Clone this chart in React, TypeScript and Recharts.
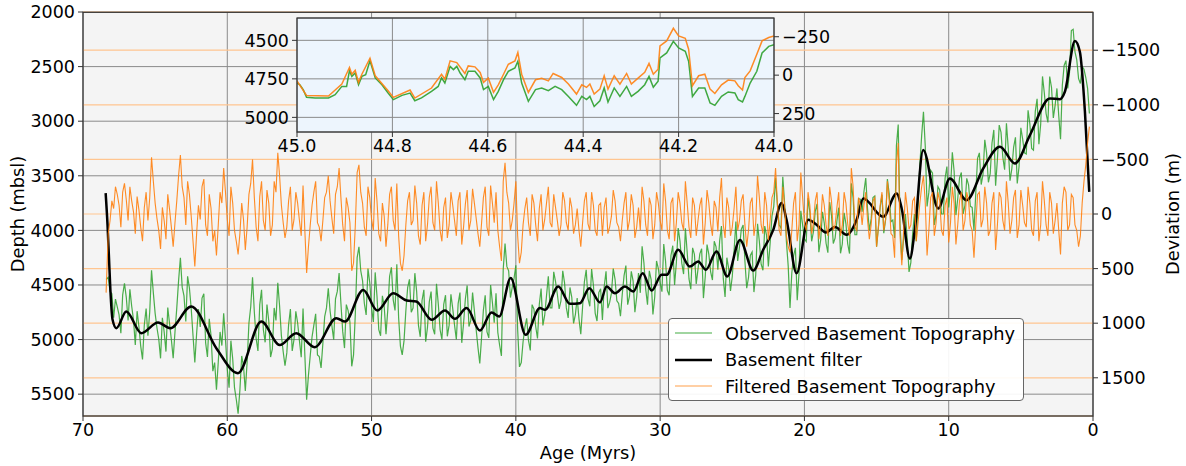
import React from 'react';
import { LineChart, Line, XAxis, YAxis, CartesianGrid, Legend } from 'recharts';

const FONT = '"DejaVu Sans", Verdana, sans-serif';

// ---------- main axes ----------
const ageTicks = [70, 60, 50, 40, 30, 20, 10, 0];
const depthTicks = [2000, 2500, 3000, 3500, 4000, 4500, 5000, 5500];
const devTicks = [-1500, -1000, -500, 0, 500, 1000, 1500];

// ---------- observed basement (age Myr, depth m) + filtered deviation (m), samples on the quarter-Myr ----------
const obsAges = [
  68.4, 68.25, 68, 67.75, 67.5, 67.25, 67, 66.75, 66.5, 66.25, 66, 65.75, 65.5, 65.25, 65, 64.75, 64.5, 64.25, 64, 63.75,
  63.5, 63.25, 63, 62.75, 62.5, 62.25, 62, 61.75, 61.5, 61.25, 61, 60.75, 60.5, 60.25, 60, 59.75, 59.5, 59.25, 59, 58.75,
  58.5, 58.25, 58, 57.75, 57.5, 57.25, 57, 56.75, 56.5, 56.25, 56, 55.75, 55.5, 55.25, 55, 54.75, 54.5, 54.25, 54, 53.75,
  53.5, 53.25, 53, 52.75, 52.5,
  52.25, 52, 51.75, 51.5, 51.25, 51, 50.75, 50.5, 50.25, 50, 49.75, 49.5, 49.25, 49, 48.75, 48.5, 48.25, 48, 47.75, 47.5,
  47.25, 47, 46.75, 46.5, 46.25, 46, 45.75, 45.5, 45.25, 45, 44.75, 44.5, 44.25, 44, 43.75, 43.5, 43.25, 43, 42.75, 42.5,
  42.25, 42, 41.75, 41.5, 41.25, 41, 40.75, 40.5, 40.25, 40, 39.75, 39.5, 39.25, 39, 38.75, 38.5, 38.25, 38, 37.75, 37.5,
  37.25, 37, 36.75, 36.5, 36.25, 36, 35.75, 35.5, 35.25, 35, 34.75, 34.5, 34.25,
  34, 33.75, 33.5, 33.25, 33, 32.75, 32.5, 32.25, 32, 31.75, 31.5, 31.25, 31, 30.75, 30.5, 30.25, 30, 29.75, 29.5, 29.25,
  29, 28.75, 28.5, 28.25, 28, 27.75, 27.5, 27.25, 27, 26.75, 26.5, 26.25, 26, 25.75, 25.5, 25.25, 25, 24.75, 24.5, 24.25,
  24, 23.75, 23.5, 23.25, 23, 22.75, 22.5, 22.25, 22, 21.75, 21.5, 21.25, 21, 20.75, 20.5, 20.25, 20, 19.75, 19.5, 19.25,
  19, 18.75, 18.5, 18.25, 18, 17.75, 17.5, 17.25, 17, 16.75, 16.5, 16.25,
  16, 15.75, 15.5, 15.25, 15, 14.75, 14.5, 14.25, 14, 13.75, 13.5, 13.25, 13, 12.75, 12.5, 12.25, 12, 11.75, 11.5, 11.25,
  11, 10.75, 10.5, 10.25, 10, 9.75, 9.5, 9.25, 9, 8.75, 8.5, 8.25, 8, 7.75, 7.5, 7.25, 7, 6.75, 6.5, 6.25,
  6, 5.75, 5.5, 5.25, 5, 4.75, 4.5, 4.25, 4, 3.75, 3.5, 3.25, 3, 2.75, 2.5, 2.25, 2, 1.75, 1.5, 1.25,
  1, 0.75, 0.5, 0.25,
];

const obsDepth = [
  4450, 4430, 4580, 4630, 4774, 4590, 4613, 4540, 4820, 4740, 5060, 4865, 4965, 4365, 4760, 4995, 4800, 5110, 4855, 5170,
  4710, 4250, 4600, 4420, 4717, 5210, 4720, 4620, 5030, 4810, 5290, 5460, 4930, 4760, 5270, 5010, 5440, 5678, 5150, 5470,
  4850, 4430, 4990, 4680, 4910, 4680, 5160, 4710, 4480, 4965, 5240, 4865, 5105, 4742, 5010, 4715, 5550, 5145, 4868, 5140,
  5260, 4790, 4530, 4875, 4628,
  4390, 4925, 4680, 4840, 5140, 4250, 4370, 4670, 4350, 4710, 4385, 4910, 4600, 4950, 4420, 4636, 4310, 5060, 5010, 4525,
  4750, 4392, 4870, 4640, 5020, 4655, 4895, 4490, 4910, 4678, 4970, 4585, 4868, 4670, 5030, 4628, 4880, 4570, 4910, 5218,
  4730, 4930, 4500, 4845, 4935, 5150, 4120, 4370, 4520, 4320, 5250, 5020, 4805, 5100, 4720, 4990, 4532, 4777, 4420, 4710,
  4470, 4720, 4370, 4710, 4523, 4852, 4620, 4950, 4470, 4625, 4355, 4760, 4570,
  4820, 4375, 4660, 4350, 4645, 4785, 4415, 4680, 4375, 4750, 4390, 4145, 4540, 4370, 4770, 4280, 4480, 4125, 4550, 4230,
  4500, 3978, 4300, 3980, 4445, 4160, 4490, 4215, 4620, 4130, 4380, 4100, 4360, 3960, 4610, 4350, 4420, 3920, 4150, 3950,
  4530, 4230, 4565, 3940, 4310, 3960, 4330, 3870, 3520, 3950, 3510, 4100, 4710, 4230, 4640, 3820, 4080, 3705, 4100, 3825,
  4200, 3830, 4118, 3740, 4120, 3915, 4210, 3840, 4125, 3570, 4040, 3710,
  3830, 3520, 4000, 3700, 4150, 3790, 4026, 3530, 3920, 4070, 3030, 4270, 3850, 4380, 4030, 4100, 3400, 2914, 3780, 3450,
  3950, 3600, 3850, 3520, 3790, 3285, 3860, 3520, 3850, 3523, 3780, 4000, 3340, 3580, 3170, 3560, 3200, 3590, 3036, 3330,
  3020, 3545, 3237, 3570, 3060, 3290, 2900, 3250, 2910, 3210, 2590, 2930, 2592, 2970, 2700, 3165, 2490, 2700, 2170, 2366,
  2610, 2500, 2600, 2930,
];

const devValues = [
  720, 180, -120, -250, -80, -200, -130, -250, -20, -160, 120, -60, 60, -520, -100, 150, -60, 230, -40, 300,
  -120, -540, -150, -300, 20, 480, -80, -250, 100, -180, 250, 380, -200, -420, 50, -250, 150, 370, -100, 330,
  -180, -500, 120, -160, 60, -220, 200, -300, -560, -80, 220, -120, 150, -200, 60, -260, 540, 100, -200, 80,
  250, -150, -350, 40, -180,
  -420, 100, -150, 80, 450, -380, -200, 120, -250, 50, -330, 180, -100, 300, -180, 60, -280, 450, 380, -120,
  100, -260, 200, -80, 250, -150, 80, -300, 150, -60, 220, -200, 60, -120, 280, -90, 150, -230, 40, 300,
  -150, 120, -260, 80, 150, 430, -470, -100, 60, -300, 450, 100, -150, 200, -100, 250, -180, 50, -250, 120,
  -60, 200, -200, 80, -150, 180, -50, 300, -120, 90, -200, 150, -80,
  200, -150, 120, -220, 80, 250, -100, 150, -180, 220, -60, -250, 100, -150, 230, -200, 60, -280, 150, -100,
  250, -200, 80, -300, 120, -150, 200, -80, 280, -220, 90, -120, 160, -330, 220, -60, 120, -250, 60, -180,
  300, -100, 200, -350, 100, -200, 240, -150, -420, 150, -250, 200, 350, -100, 250, -380, 80, -200, 180, -120,
  230, -180, 100, -250, 150, -60, 200, -200, 90, -420, 120, -150,
  100, -200, 230, -120, 300, -80, 150, -300, 180, 400, -650, 470, -200, 140, -120, 250, -100, -350, 380, -150,
  200, -200, 150, -80, 260, -250, 280, -120, 150, -200, 100, 400, -180, 120, -250, 200, -100, 330, -200, 60,
  -300, 180, -150, 220, -220, 80, -250, 150, -120, 250, -300, 100, -200, 180, -100, 370, -250, 150, -180, 100,
  300, -100, -450, -800,
];

// ---------- samples between the quarter-Myr points ----------
const midAges = [
  68.125, 67.875, 67.625, 67.375, 67.125, 66.875, 66.625, 66.375, 66.125, 65.875, 65.625, 65.375, 65.125, 64.875, 64.625, 64.375, 64.125, 63.875, 63.625, 63.375,
  63.125, 62.875, 62.625, 62.375, 62.125, 61.875, 61.625, 61.375, 61.125, 60.875, 60.625, 60.375, 60.125, 59.875, 59.625, 59.375, 59.125, 58.875, 58.625, 58.375,
  58.125, 57.875, 57.625, 57.375, 57.125, 56.875, 56.625, 56.375, 56.125, 55.875, 55.625, 55.375, 55.125, 54.875, 54.625, 54.375, 54.125, 53.875, 53.625, 53.375,
  53.125, 52.875, 52.625, 52.375,
  52.125, 51.875, 51.625, 51.375, 51.125, 50.875, 50.625, 50.375, 50.125, 49.875, 49.625, 49.375, 49.125, 48.875, 48.625, 48.375, 48.125, 47.875, 47.625, 47.375,
  47.125, 46.875, 46.625, 46.375, 46.125, 45.875, 45.625, 45.375, 45.125, 44.875, 44.625, 44.375, 44.125, 43.875, 43.625, 43.375, 43.125, 42.875, 42.625, 42.375,
  42.125, 41.875, 41.625, 41.375, 41.125, 40.875, 40.625, 40.375, 40.125, 39.875, 39.625, 39.375, 39.125, 38.875, 38.625, 38.375, 38.125, 37.875, 37.625, 37.375,
  37.125, 36.875, 36.625, 36.375, 36.125, 35.875, 35.625, 35.375, 35.125, 34.875, 34.625, 34.375, 34.125,
  33.875, 33.625, 33.375, 33.125, 32.875, 32.625, 32.375, 32.125, 31.875, 31.625, 31.375, 31.125, 30.875, 30.625, 30.375, 30.125, 29.875, 29.625, 29.375, 29.125,
  28.875, 28.625, 28.375, 28.125, 27.875, 27.625, 27.375, 27.125, 26.875, 26.625, 26.375, 26.125, 25.875, 25.625, 25.375, 25.125, 24.875, 24.625, 24.375, 24.125,
  23.875, 23.625, 23.375, 23.125, 22.875, 22.625, 22.375, 22.125, 21.875, 21.625, 21.375, 21.125, 20.875, 20.625, 20.375, 20.125, 19.875, 19.625, 19.375, 19.125,
  18.875, 18.625, 18.375, 18.125, 17.875, 17.625, 17.375, 17.125, 16.875, 16.625, 16.375, 16.125,
  15.875, 15.625, 15.375, 15.125, 14.875, 14.625, 14.375, 14.125, 13.875, 13.625, 13.375, 13.125, 12.875, 12.625, 12.375, 12.125, 11.875, 11.625, 11.375, 11.125,
  10.875, 10.625, 10.375, 10.125, 9.875, 9.625, 9.375, 9.125, 8.875, 8.625, 8.375, 8.125, 7.875, 7.625, 7.375, 7.125, 6.875, 6.625, 6.375, 6.125,
  5.875, 5.625, 5.375, 5.125, 4.875, 4.625, 4.375, 4.125, 3.875, 3.625, 3.375, 3.125, 2.875, 2.625, 2.375, 2.125, 1.875, 1.625, 1.375, 1.125,
  0.875, 0.625, 0.375,
];

const midDepth = [
  4560, 4800, 4700, 4942, 4486, 4826, 4695, 5050, 4880, 5182, 4715, 4745, 4572, 4892, 5172, 4930, 4707, 5002, 4930, 4460,
  4520, 4835, 4528, 4963, 4945, 4885, 4580, 5160, 4965, 5210, 5205, 5055, 5000, 5440, 5175, 5549, 5459, 5245, 5205, 4700,
  4750, 5105, 4545, 5025, 4830, 5085, 4825, 4692, 5112, 5122, 4720, 4998, 4846, 5162, 5142, 5327, 4976, 4764, 5155, 5035,
  4710, 4737, 5001, 4559,
  4668, 5078, 4735, 5245, 4760, 4150, 4460, 4775, 4480, 4838, 4602, 4965, 4695, 4725, 4338, 4733, 4800, 5140, 4738, 4448,
  4711, 4561, 4975, 4545, 4888, 4560, 4952, 4675, 4999, 4594, 4868, 4716, 4999, 4570, 4854, 4504, 4825, 4735, 5074, 4979,
  4595, 4985, 4662, 4575, 5052, 4355, 4330, 4615, 4440, 4910, 5210, 4888, 5008, 4680, 4880, 4676, 4870, 4598, 4710, 4380,
  4585, 4645, 4480, 4802, 4612, 4771, 4810, 4700, 4362, 4695, 4502, 4830, 4535,
  4512, 4712, 4575, 4448, 4670, 4585, 4322, 4602, 4462, 4610, 4572, 4298, 4680, 4450, 4610, 4350, 4562, 4282, 4595, 4140,
  4294, 4099, 4400, 4202, 4538, 4220, 4352, 4168, 4425, 4220, 4455, 4150, 4095, 4440, 4250, 4555, 4185, 4280, 3990, 4280,
  4430, 4198, 4408, 4100, 4365, 4045, 4115, 3780, 3770, 3980, 3750, 4325, 4390, 4160, 4395, 3950, 4102, 3832, 4012, 3758,
  4090, 3934, 4204, 3860, 4072, 3792, 4125, 3938, 4212, 3705, 4040, 3715,
  3645, 3805, 3895, 3685, 3980, 3673, 3903, 3665, 3905, 3225, 3940, 4075, 4085, 4295, 3850, 3755, 3132, 3232, 3650, 3475,
  3855, 3630, 3850, 3415, 3612, 3458, 3710, 3470, 3772, 3582, 3790, 3660, 3290, 3490, 3290, 3480, 3080, 3348, 3103, 3445,
  3242, 3436, 3148, 3415, 3165, 3300, 3025, 3265, 2795, 3025, 2740, 3011, 2691, 2855, 2948, 2668, 2445, 2550, 2158, 2438,
  2655, 2525, 2700,
];

const midDev = [
  60, -50, -180, 120, -280, 60, -120, 180, -40, 250, -200, -150, -300, 40, 320, 60, -180, 120, 80, -350,
  -250, 100, -180, 250, 180, 50, -320, 200, -50, 150, 100, -100, -200, 200, -100, 250, 180, 50, 120, -280,
  -150, 250, -300, 150, -100, 100, -200, -350, 80, 120, -250, 50, -100, 200, 150, 300, -80, -300, 120, 60,
  -200, -120, 180, -250,
  -150, 250, -60, 520, 100, -450, -100, 200, -150, 150, -120, 250, 20, 100, -250, 150, 200, 520, 100, -200,
  60, -100, 280, -200, 100, -250, 150, -100, 250, -150, 100, -80, 200, -200, 120, -220, 60, -100, 180, 80,
  -250, 200, -100, -200, 300, -300, -200, 150, -100, 200, 350, -50, 80, -180, 100, -50, 150, -100, 80, -180,
  60, 100, -120, 150, -60, 100, 150, 80, -200, 150, -80, 200, -100,
  -60, 180, 20, -120, 120, 60, -200, 60, -80, 120, 150, -120, 200, -80, 100, -100, 150, -120, 230, -150,
  80, -100, 150, -100, 220, -80, 60, -150, 80, -100, 200, -60, -150, 100, -150, 200, -50, 150, -120, 100,
  150, -150, 80, -150, 180, -80, 60, -200, -100, 200, -80, 300, 150, -200, 100, -150, 150, -80, 80, -200,
  100, -80, 200, -120, 100, -200, 100, -100, 200, -250, 150, -80,
  -80, 60, 100, -150, 120, -200, 50, -120, 200, -450, 200, 150, -60, 100, -150, 80, -250, -100, 150, -200,
  80, -120, 200, -150, 80, -100, 100, -200, 60, -120, 150, 100, -200, 50, -100, 150, -200, 100, -150, 150,
  -100, 60, -220, 100, -80, 120, -100, 200, -200, 100, -120, 200, -100, 60, 150, -100, -200, 100, -150, 150,
  200, -300, -650,
];

// ---------- basement filter ----------
const filterAges = [
  68.43, 68.3, 68.2, 68.1, 67.95, 67.69, 67.0, 65.96, 64.8, 63.95, 62.5, 60.76, 59.26, 57.64, 56.37, 55.22, 53.94, 52.44,
  51.84, 50.58, 49.6, 48.5, 47.57, 46.9, 45.83, 44.91, 44.22, 43.41, 42.49, 41.68, 41.15, 40.36, 39.32, 38.33, 37.98,
  37.06, 36.25, 35.56, 34.91, 34.17, 33.71, 33.13, 32.44, 31.86, 31.21, 30.59, 29.9, 29.55, 28.75, 27.94, 27.36, 26.83,
  26.09, 25.35, 24.47, 23.55, 22.86, 22.16, 21.58, 21.24, 20.54, 19.74, 19.16, 18.51, 17.89, 17.08, 16.38, 15.92, 14.54,
  13.61, 13.26, 12.69, 12.34, 11.77, 10.73, 9.92, 8.76, 7.61, 6.45, 5.41, 4.37, 2.99, 2.29, 1.95, 1.25, 0.91, 0.56, 0.26,
];
const filterDepth = [
  3659, 3950, 4250, 4550, 4819, 4896, 4743, 4941, 4844, 4896, 4697, 5079, 5308, 4835, 5049, 4941, 5070, 4804,
  4835, 4545, 4734, 4576, 4642, 4652, 4819, 4734, 4810, 4712, 4918, 4752, 4789, 4437, 4957, 4712, 4728,
  4514, 4673, 4667, 4529, 4660, 4514, 4576, 4514, 4560, 4392, 4551, 4407, 4407, 4178, 4331, 4285, 4361,
  4193, 4422, 4087, 4368, 4178, 3995, 3750, 3903, 4392, 3903, 3949, 4019, 3970, 4040, 3903, 3708, 3876,
  3662, 3799, 4258, 3983, 3264, 3799, 3525, 3723, 3433, 3234, 3387, 3127, 2792, 2798, 2730, 2266, 2364, 2913, 3647,
];

// ---------- inset (45.0 - 44.0 Myr) ----------
const insetAgeTicks = [45.0, 44.8, 44.6, 44.4, 44.2, 44.0];
const insetDepthTicks = [4500, 4750, 5000];
const insetDevTicks = [-250, 0, 250];

const insetObsAges = [
  45.0, 44.994, 44.987, 44.98, 44.962, 44.934, 44.92, 44.906, 44.896, 44.89, 44.885, 44.878, 44.871, 44.864, 44.856,
  44.847, 44.836, 44.822, 44.809, 44.798, 44.78, 44.763, 44.753, 44.739, 44.718, 44.704, 44.697, 44.69, 44.679, 44.672,
  44.665, 44.658, 44.648, 44.641, 44.627, 44.616, 44.609, 44.599, 44.588, 44.578, 44.567, 44.557, 44.543, 44.537, 44.529,
  44.515, 44.5, 44.487, 44.473, 44.459, 44.445, 44.431, 44.414, 44.403, 44.393, 44.386, 44.377, 44.365, 44.356, 44.348,
  44.335, 44.323, 44.309, 44.299, 44.285, 44.271, 44.262, 44.253, 44.243, 44.239, 44.225, 44.211, 44.2, 44.186, 44.179,
  44.171, 44.158, 44.145, 44.134, 44.124, 44.11, 44.096, 44.082, 44.075, 44.066, 44.061, 44.05, 44.036, 44.025, 44.011, 44.0,
];
const insetObsDepth = [
  4777, 4788, 4820, 4870, 4874, 4874, 4853, 4799, 4799, 4697, 4734, 4712, 4788, 4734, 4723,
  4632, 4744, 4788, 4842, 4885, 4857, 4842, 4892, 4874, 4831, 4799, 4744, 4777, 4669, 4690,
  4669, 4712, 4755, 4701, 4701, 4744, 4820, 4799, 4885, 4831, 4755, 4701, 4679, 4636, 4777,
  4896, 4820, 4809, 4827, 4799, 4820, 4864, 4922, 4864, 4885, 4864, 4929, 4892, 4809, 4900,
  4809, 4864, 4799, 4864, 4831, 4788, 4734, 4805, 4766, 4614, 4582, 4506, 4549, 4571, 4636,
  4864, 4809, 4809, 4907, 4922, 4864, 4835, 4842, 4885, 4900, 4864, 4777, 4701, 4582, 4539, 4528,
];

const insetDevAges = [
  45.0, 44.98, 44.934, 44.906, 44.89, 44.885, 44.878, 44.871, 44.864, 44.847, 44.836, 44.809, 44.798, 44.763, 44.753,
  44.718, 44.697, 44.69, 44.679, 44.665, 44.648, 44.641, 44.627, 44.616, 44.609, 44.599, 44.588, 44.578, 44.567, 44.557,
  44.543, 44.537, 44.529, 44.515, 44.5, 44.487, 44.473, 44.463, 44.445, 44.431, 44.414, 44.403, 44.393, 44.386, 44.377,
  44.365, 44.356, 44.348, 44.335, 44.323, 44.309, 44.299, 44.285, 44.271, 44.262, 44.253, 44.243, 44.239, 44.225, 44.211,
  44.2, 44.186, 44.179, 44.171, 44.158, 44.145, 44.134, 44.124, 44.11, 44.096, 44.082, 44.075, 44.066, 44.061, 44.05,
  44.036, 44.025, 44.011, 44.0,
];
const insetDevValues = [
  37, 132, 136, 58, -50, -6, -32, 47, -6, -110, 4, 102, 145, 97, 149,
  84, -6, 26, -93, -82, -11, -60, -54, -18, 47, 19, 112, 63, -6, -71,
  -93, -147, -6, 112, 30, 20, 37, -11, 15, 58, 123, 63, 80, 58, 123,
  91, 4, 91, 4, 58, -11, 58, 19, -18, -76, -6, -39, -190, -223, -305,
  -255, -240, -169, 69, 4, -6, 91, 119, 63, 32, 37, 69, 97, 15, -28,
  -136, -223, -245, -255,
];

// ---------- legend labels ----------
const legendLabels = ['Observed Basement Topography', 'Basement filter', 'Filtered Basement Topography'];

// ---------- tables built from the arrays ----------
const byAgeDesc = (p: { age: number }, q: { age: number }) => q.age - p.age;
const obsData = [
  ...obsAges.map((a, i) => ({ age: a, depth: obsDepth[i] })),
  ...midAges.map((a, i) => ({ age: a, depth: midDepth[i] })),
].sort(byAgeDesc);
const devData = [
  ...obsAges.map((a, i) => ({ age: a, dev: devValues[i] })),
  ...midAges.map((a, i) => ({ age: a, dev: midDev[i] })),
].sort(byAgeDesc);
const filterData = filterAges.map((a, i) => ({ age: a, depth: filterDepth[i] }));
const insetObsData = insetObsAges.map((a, i) => ({ age: a, depth: insetObsDepth[i] }));
const insetDevData = insetDevAges.map((a, i) => ({ age: a, dev: insetDevValues[i] }));

const minus = (v: number) => String(v).replace('-', '\u2212');

const GREEN = '#2ca02c';
const ORANGE = '#ff7f0e';
const GRID = '#8a8a8a';
const OGRID = '#ffc590';
const AXIS = '#333';
const TICK_FS = 17.5;
const LABEL_FS = 17.8;
const tickStyle = { fontSize: TICK_FS, fill: '#000', fontFamily: FONT };

const legendStyles = [
  { color: GREEN, width: 1.5, opacity: 0.6 },
  { color: '#000', width: 2.5, opacity: 1 },
  { color: ORANGE, width: 1.5, opacity: 0.5 },
];

const renderLegend = () => (
  <div
    style={{
      width: 356,
      height: 83,
      boxSizing: 'border-box',
      background: 'rgba(255,255,255,0.92)',
      border: '1px solid #666',
      borderRadius: 4,
      paddingTop: 1,
      fontFamily: FONT,
      fontSize: LABEL_FS,
      color: '#000',
    }}
  >
    {legendLabels.map((label, i) => (
      <div key={label} style={{ display: 'flex', alignItems: 'center', height: 26.5 }}>
        <svg width={50} height={10} style={{ marginLeft: 6, flex: 'none' }}>
          <line
            x1={0}
            y1={5}
            x2={37}
            y2={5}
            stroke={legendStyles[i].color}
            strokeWidth={legendStyles[i].width}
            strokeOpacity={legendStyles[i].opacity}
          />
        </svg>
        <span style={{ whiteSpace: 'nowrap' }}>{label}</span>
      </div>
    ))}
  </div>
);

export default function App() {
  return (
    <div style={{ position: 'absolute', left: 0, top: 0, width: 1186, height: 466, background: '#fff', fontFamily: FONT }}>
      <div style={{ position: 'absolute', left: 0, top: 0 }}>
        <LineChart width={1186} height={466} margin={{ top: 12, right: 20, bottom: 20, left: 23 }}>
          <CartesianGrid yAxisId="left" fill="#f4f4f4" stroke={GRID} strokeWidth={1} />
          <CartesianGrid yAxisId="right" vertical={false} stroke={OGRID} strokeWidth={1.2} />
          <XAxis
            type="number"
            dataKey="age"
            domain={[0, 70]}
            reversed
            allowDataOverflow
            ticks={ageTicks}
            height={30}
            tickSize={5}
            tickMargin={3}
            axisLine={false}
            tickLine={{ stroke: AXIS }}
            tick={tickStyle}
          />
          <YAxis
            yAxisId="left"
            type="number"
            domain={[2000, 5700]}
            reversed
            allowDataOverflow
            ticks={depthTicks}
            width={60}
            tickSize={5}
            tickMargin={3}
            axisLine={false}
            tickLine={{ stroke: AXIS }}
            tick={tickStyle}
          />
          <YAxis
            yAxisId="right"
            orientation="right"
            type="number"
            domain={[-1850, 1850]}
            reversed
            allowDataOverflow
            ticks={devTicks}
            tickFormatter={minus}
            width={73}
            tickSize={5}
            tickMargin={3}
            axisLine={false}
            tickLine={{ stroke: AXIS }}
            tick={tickStyle}
          />
          <Line
            yAxisId="left"
            data={obsData}
            dataKey="depth"
            type="linear"
            stroke={GREEN}
            strokeWidth={1.2}
            strokeOpacity={0.85}
            dot={false}
            isAnimationActive={false}
            name={legendLabels[0]}
          />
          <Line
            yAxisId="left"
            data={filterData}
            dataKey="depth"
            type="monotone"
            stroke="#000"
            strokeWidth={2.5}
            dot={false}
            isAnimationActive={false}
            name={legendLabels[1]}
          />
          <Line
            yAxisId="right"
            data={devData}
            dataKey="dev"
            type="linear"
            stroke={ORANGE}
            strokeWidth={1.1}
            strokeOpacity={0.9}
            dot={false}
            isAnimationActive={false}
            name={legendLabels[2]}
          />
          <Legend
            verticalAlign="middle"
            align="center"
            layout="horizontal"
            content={renderLegend}
            wrapperStyle={{ left: 668, top: 318, width: 356, height: 83 }}
          />
        </LineChart>
      </div>

      {/* inset */}
      <div style={{ position: 'absolute', left: 230, top: 0 }}>
        <LineChart width={620} height={160} margin={{ top: 18, right: 26, bottom: 3, left: 7 }}>
          <CartesianGrid yAxisId="left" fill="#edf5fd" stroke={GRID} strokeWidth={1} />
          <XAxis
            type="number"
            dataKey="age"
            domain={[44, 45]}
            reversed
            allowDataOverflow
            ticks={insetAgeTicks}
            tickFormatter={(v: number) => v.toFixed(1)}
            height={25}
            tickSize={5}
            tickMargin={3}
            axisLine={false}
            tickLine={{ stroke: AXIS }}
            tick={tickStyle}
          />
          <YAxis
            yAxisId="left"
            type="number"
            domain={[4355, 5095]}
            reversed
            allowDataOverflow
            ticks={insetDepthTicks}
            width={60}
            tickSize={5}
            tickMargin={3}
            axisLine={false}
            tickLine={{ stroke: AXIS }}
            tick={tickStyle}
          />
          <YAxis
            yAxisId="right"
            orientation="right"
            type="number"
            domain={[-372, 370]}
            reversed
            allowDataOverflow
            ticks={insetDevTicks}
            tickFormatter={minus}
            width={50}
            tickSize={5}
            tickMargin={3}
            axisLine={false}
            tickLine={{ stroke: AXIS }}
            tick={tickStyle}
          />
          <Line
            yAxisId="left"
            data={insetObsData}
            dataKey="depth"
            type="linear"
            stroke={GREEN}
            strokeWidth={1.5}
            strokeOpacity={0.9}
            dot={false}
            isAnimationActive={false}
          />
          <Line
            yAxisId="right"
            data={insetDevData}
            dataKey="dev"
            type="linear"
            stroke={ORANGE}
            strokeWidth={1.5}
            strokeOpacity={0.9}
            dot={false}
            isAnimationActive={false}
          />
        </LineChart>
      </div>

      {/* frames and axis titles */}
      <svg width={1186} height={466} style={{ position: 'absolute', left: 0, top: 0, pointerEvents: 'none' }}>
        <rect x={83} y={12.3} width={1010} height={403.7} fill="none" stroke={AXIS} strokeWidth={1.2} />
        <rect x={297} y={18} width={477} height={114} fill="none" stroke={AXIS} strokeWidth={1.2} />
        <text
          x={17}
          y={214}
          transform="rotate(-90 17 214)"
          textAnchor="middle"
          dominantBaseline="central"
          fontFamily={FONT}
          fontSize={LABEL_FS}
          fill="#000"
        >
          Depth (mbsl)
        </text>
        <text
          x={1172}
          y={214}
          transform="rotate(-90 1172 214)"
          textAnchor="middle"
          dominantBaseline="central"
          fontFamily={FONT}
          fontSize={LABEL_FS}
          fill="#000"
        >
          Deviation (m)
        </text>
        <text x={588} y={452} textAnchor="middle" dominantBaseline="central" fontFamily={FONT} fontSize={LABEL_FS} fill="#000">
          Age (Myrs)
        </text>
      </svg>
    </div>
  );
}
